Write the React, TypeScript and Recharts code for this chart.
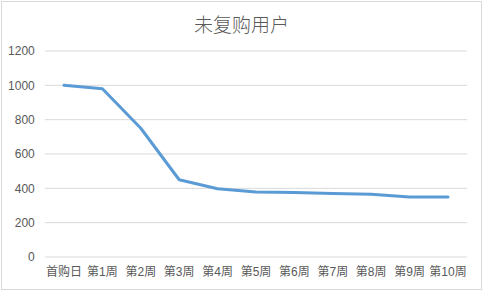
import React from "react";
import { LineChart, Line, XAxis, YAxis, CartesianGrid } from "recharts";

const categories = ["首购日", "第1周", "第2周", "第3周", "第4周", "第5周", "第6周", "第7周", "第8周", "第9周", "第10周"];
const users = [1000, 980, 750, 450, 398, 378, 376, 370, 365, 350, 350];
const yTicks = [0, 200, 400, 600, 800, 1000, 1200];

const data = categories.map((c, i) => ({ name: c, value: users[i] }));

const FONT = "'Liberation Sans', 'Noto Sans CJK SC', sans-serif";

export default function App() {
  return (
    <div style={{ position: "fixed", left: 0, top: 0, width: 483, height: 291, background: "#fff" }}>
      <div
        style={{
          position: "absolute",
          left: 1,
          top: 1,
          width: 479,
          height: 287,
          border: "1px solid #d9d9d9",
        }}
      />
      <div
        style={{
          position: "absolute",
          left: 0,
          top: 10,
          width: 483,
          textAlign: "center",
          fontFamily: "'Noto Sans CJK SC', sans-serif",
          fontWeight: 300,
          fontSize: 19,
          color: "#595959",
          lineHeight: "28px",
        }}
      >
        未复购用户
      </div>
      <div style={{ position: "absolute", left: 0, top: 0 }}>
        <LineChart
          width={483}
          height={291}
          data={data}
          margin={{ top: 51, right: 15.8, bottom: 4, left: 4.8 }}
        >
          <CartesianGrid vertical={false} stroke="#d9d9d9" strokeWidth={1} />
          <XAxis
            dataKey="name"
            axisLine={false}
            tickLine={false}
            tickSize={0}
            tickMargin={10}
            height={30}
            interval={0}
            padding={{ left: 19.2, right: 19.2 }}
            tick={{ fill: "#595959", fontSize: 12, fontFamily: FONT }}
          />
          <YAxis
            domain={[0, 1200]}
            ticks={yTicks}
            axisLine={false}
            tickLine={false}
            tickSize={0}
            tickMargin={10}
            width={40}
            tick={{ fill: "#595959", fontSize: 12, fontFamily: FONT }}
          />
          <Line
            type="linear"
            dataKey="value"
            stroke="#5b9bd5"
            strokeWidth={3}
            dot={false}
            strokeLinejoin="round"
            strokeLinecap="round"
            isAnimationActive={false}
          />
        </LineChart>
      </div>
    </div>
  );
}
